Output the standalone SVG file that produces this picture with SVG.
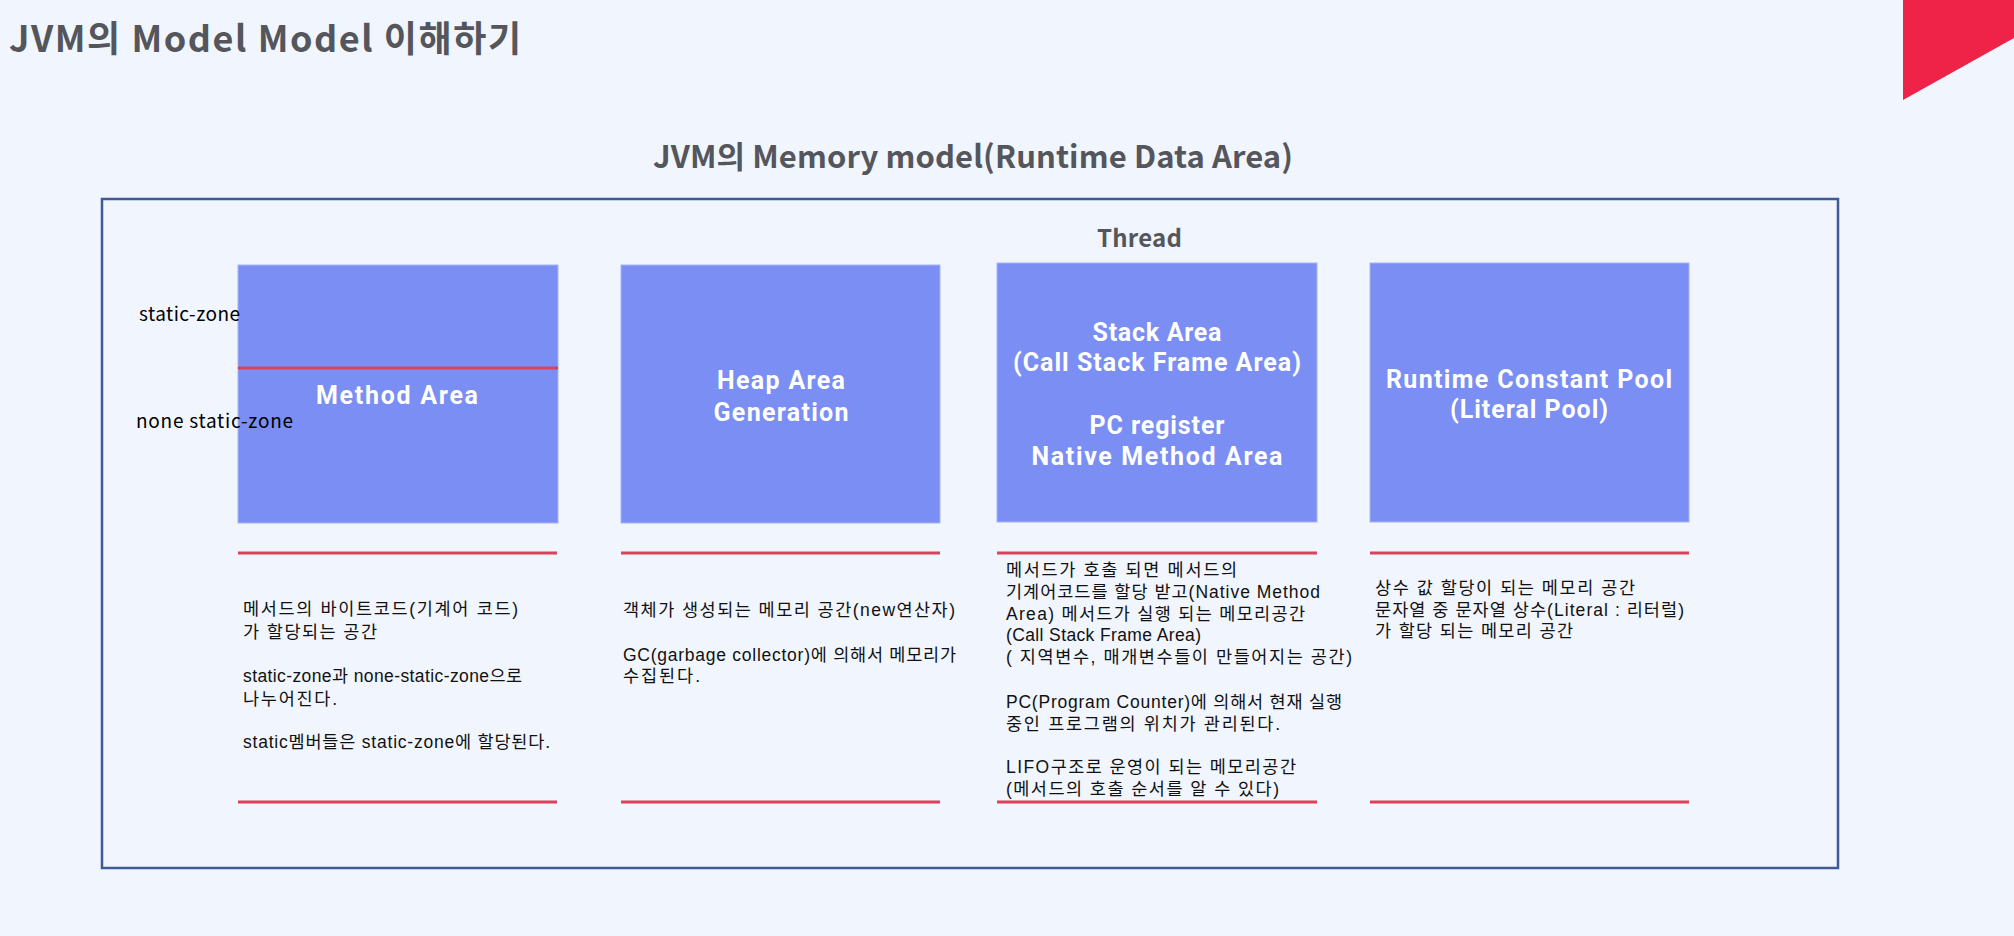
<svg xmlns="http://www.w3.org/2000/svg" width="2014" height="936" viewBox="0 0 2014 936">
<style>
.bg{fill:#f0f5fe}
.head{font-family:"Noto Sans CJK KR","Noto Sans",sans-serif;font-weight:bold;fill:#54565c}
.box{fill:#7a8ef3;stroke:#a6b4f7;stroke-width:1}
.bl{font-family:Roboto,"Noto Sans",sans-serif;font-weight:bold;font-size:25px;fill:#ffffff;text-anchor:middle}
.sep{stroke:#d9435a;stroke-width:3;fill:none}
.desc{font-family:"Liberation Sans","Noto Sans CJK KR",sans-serif;font-size:17.5px;fill:#111111}
.zone{font-family:"Noto Sans CJK KR","Noto Sans",sans-serif;font-size:19px;fill:#000000}
</style>
<rect class="bg" x="0" y="0" width="2014" height="936"/>
<g id="corner"><polygon points="1903,0 2014,0 2014,38 1903,100" fill="#ee2347"/></g>
<g id="title"><text class="head" x="9" y="52" font-size="36" textLength="512">JVM의 Model Model 이해하기</text></g>
<g id="subtitle"><text class="head" x="653" y="168" font-size="31" textLength="640">JVM의 Memory model(Runtime Data Area)</text></g>
<g id="frame"><rect x="102" y="199" width="1736" height="669" fill="none" stroke="#3f5a96" stroke-width="2.5"/></g>
<g id="thread"><text class="head" x="1097" y="247" font-size="24" textLength="85">Thread</text></g>

<g id="method-area">
<rect class="box" x="238" y="265" width="320" height="258"/>
<line class="sep" x1="238" y1="368" x2="558" y2="368" stroke-width="2.5"/>
<text class="bl" x="397" y="404" textLength="162">Method Area</text>
</g>
<g id="zone-labels">
<text class="zone" x="139" y="321" textLength="101">static-zone</text>
<text class="zone" x="136" y="428" textLength="157">none static-zone</text>
</g>
<g id="heap-area">
<rect class="box" x="621" y="265" width="319" height="258"/>
<text class="bl" x="781" y="389" textLength="128">Heap Area</text>
<text class="bl" x="781" y="421" textLength="135">Generation</text>
</g>
<g id="stack-area">
<rect class="box" x="997" y="263" width="320" height="259"/>
<text class="bl" x="1157" y="341" textLength="129">Stack Area</text>
<text class="bl" x="1157" y="371" textLength="288">(Call Stack Frame Area)</text>
<text class="bl" x="1157" y="434" textLength="135">PC register</text>
<text class="bl" x="1157" y="465" textLength="251">Native Method Area</text>
</g>
<g id="runtime-constant-pool">
<rect class="box" x="1370" y="263" width="319" height="259"/>
<text class="bl" x="1529" y="388" textLength="286">Runtime Constant Pool</text>
<text class="bl" x="1529" y="418" textLength="158">(Literal Pool)</text>
</g>

<g id="connectors"></g>

<g id="method-desc">
<line class="sep" x1="238" y1="553" x2="557" y2="553"/>
<line class="sep" x1="238" y1="802" x2="557" y2="802"/>
<text class="desc" x="243" y="615" textLength="275">메서드의 바이트코드(기계어 코드)</text>
<text class="desc" x="243" y="638" textLength="134">가 할당되는 공간</text>
<text class="desc" x="243" y="682" textLength="279">static-zone과 none-static-zone으로</text>
<text class="desc" x="243" y="705" textLength="94">나누어진다.</text>
<text class="desc" x="243" y="748" textLength="307">static멤버들은 static-zone에 할당된다.</text>
</g>
<g id="heap-desc">
<line class="sep" x1="621" y1="553" x2="940" y2="553"/>
<line class="sep" x1="621" y1="802" x2="940" y2="802"/>
<text class="desc" x="623" y="616" textLength="332">객체가 생성되는 메모리 공간(new연산자)</text>
<text class="desc" x="623" y="661" textLength="333">GC(garbage collector)에 의해서 메모리가</text>
<text class="desc" x="623" y="682" textLength="77">수집된다.</text>
</g>
<g id="stack-desc">
<line class="sep" x1="997" y1="553" x2="1317" y2="553"/>
<line class="sep" x1="997" y1="802" x2="1317" y2="802"/>
<text class="desc" x="1006" y="576" textLength="231">메서드가 호출 되면 메서드의</text>
<text class="desc" x="1006" y="598" textLength="314">기계어코드를 할당 받고(Native Method</text>
<text class="desc" x="1006" y="620" textLength="299">Area) 메서드가 실행 되는 메모리공간</text>
<text class="desc" x="1006" y="641" textLength="195">(Call Stack Frame Area)</text>
<text class="desc" x="1006" y="663" textLength="346">( 지역변수, 매개변수들이 만들어지는 공간)</text>
<text class="desc" x="1006" y="708" textLength="336">PC(Program Counter)에 의해서 현재 실행</text>
<text class="desc" x="1006" y="730" textLength="274">중인 프로그램의 위치가 관리된다.</text>
<text class="desc" x="1006" y="773" textLength="290">LIFO구조로 운영이 되는 메모리공간</text>
<text class="desc" x="1006" y="795" textLength="273">(메서드의 호출 순서를 알 수 있다)</text>
</g>
<g id="pool-desc">
<line class="sep" x1="1370" y1="553" x2="1689" y2="553"/>
<line class="sep" x1="1370" y1="802" x2="1689" y2="802"/>
<text class="desc" x="1375" y="594" textLength="260">상수 값 할당이 되는 메모리 공간</text>
<text class="desc" x="1375" y="616" textLength="309">문자열 중 문자열 상수(Literal : 리터럴)</text>
<text class="desc" x="1375" y="637" textLength="198">가 할당 되는 메모리 공간</text>
</g>
</svg>
